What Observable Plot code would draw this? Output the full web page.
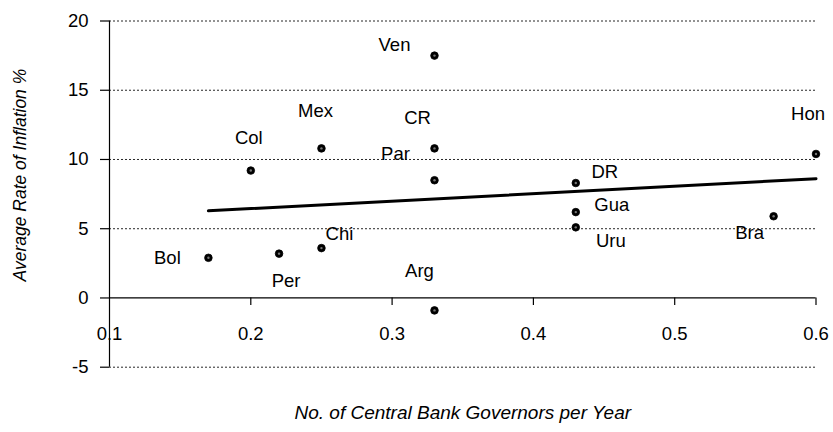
<!DOCTYPE html>
<html>
<head>
<meta charset="utf-8">
<script src="https://cdn.jsdelivr.net/npm/d3@7"></script>
<script src="https://cdn.jsdelivr.net/npm/@observablehq/plot@0.6"></script>
<style>
  html, body { margin: 0; padding: 0; background: #fff; }
  #chart { width: 833px; height: 432px; }
</style>
</head>
<body>
<div id="chart"></div>
<script>
const countries = ["Bol", "Col", "Per", "Mex", "Chi", "Ven", "CR", "Par", "Arg", "DR", "Gua", "Uru", "Bra", "Hon"];
const governorsPerYear = [0.17, 0.20, 0.22, 0.25, 0.25, 0.33, 0.33, 0.33, 0.33, 0.43, 0.43, 0.43, 0.57, 0.60];
const inflation = [2.9, 9.2, 3.2, 10.8, 3.6, 17.5, 10.8, 8.5, -0.9, 8.3, 6.2, 5.1, 5.9, 10.4];
const xTicks = [0.1, 0.2, 0.3, 0.4, 0.5, 0.6];
const xTickLabels = ["0.1", "0.2", "0.3", "0.4", "0.5", "0.6"];
const yTicks = [-5, 0, 5, 10, 15, 20];
const yTickLabels = ["-5", "0", "5", "10", "15", "20"];

const data = countries.map((c, i) => ({country: c, x: governorsPerYear[i], y: inflation[i]}));

// label placement (pixel offsets from each point), layout only
const labelOffset = {
  Bol: [-41, 0], Col: [-2, -32], Per: [7, 27], Mex: [-6, -37], Chi: [18, -14],
  Ven: [-40, -11], CR: [-17, -30], Par: [-39, -26], Arg: [-15, -39],
  DR: [29, -11], Gua: [36, -7], Uru: [35, 14], Bra: [-24, 17], Hon: [-8, -40]
};

const font = "Liberation Sans, Arial, Helvetica, sans-serif";
const fsLabel = 18.5;
const fsTick = 18.5;
const W = 833, H = 432, mL = 109, mR = 17.5, mT = 20.5, mB = 65.3;
const xMin = xTicks[0], xMax = xTicks[xTicks.length - 1];
const tickLenX = 9 * (xMax - xMin) / (W - mL - mR); // 9px in data units

const labelMarks = data.map(d => Plot.text([d], {
  x: "x", y: "y", text: "country",
  dx: labelOffset[d.country][0], dy: labelOffset[d.country][1],
  fontSize: fsLabel, fill: "#000"
}));

const plot = Plot.plot({
  width: W,
  height: H,
  marginLeft: mL,
  marginRight: mR,
  marginTop: mT,
  marginBottom: mB,
  style: {fontFamily: font, fontSize: fsTick + "px", background: "#fff", color: "#000"},
  x: {type: "linear", domain: [xMin, xMax], axis: null},
  y: {type: "linear", domain: [-5, 20], axis: null},
  marks: [
    // dotted horizontal gridlines
    Plot.ruleY(yTicks.filter(v => v !== 0), {x1: xMin, x2: xMax, stroke: "#000", strokeWidth: 1, strokeDasharray: "2,2", strokeOpacity: 0.85}),
    // x axis line at y=0
    Plot.ruleY([0], {x1: xMin, x2: xMax, stroke: "#000", strokeWidth: 1.2}),
    // x ticks (downward)
    Plot.ruleX(xTicks.slice(1), {y1: 0, y2: -0.55, stroke: "#000", strokeWidth: 1.2}),
    // y axis line
    Plot.ruleX([xMin], {y1: -5, y2: 20, stroke: "#000", strokeWidth: 1.2}),
    // y ticks
    Plot.ruleY(yTicks, {x1: xMin - tickLenX, x2: xMin, stroke: "#000", strokeWidth: 1.2}),
    // y tick labels
    Plot.text(yTicks, {x: () => xMin, y: d => d, text: (d, i) => yTickLabels[i], dx: -21, textAnchor: "end", fontSize: fsTick, fill: "#000"}),
    // x tick labels
    Plot.text(xTicks, {x: d => d, y: () => 0, text: (d, i) => xTickLabels[i], dy: 36, fontSize: fsTick, fill: "#000"}),
    // regression line
    Plot.linearRegressionY(data, {x: "x", y: "y", stroke: "#000", strokeWidth: 3, ci: 0}),
    // points
    Plot.dot(data, {x: "x", y: "y", r: 3.8, fill: "#000", stroke: "#000", strokeWidth: 0.8}),
    Plot.dot(data, {x: "x", y: "y", r: 1.2, fill: "#777"}),
    ...labelMarks,
    // axis titles
    Plot.text(["Average Rate of Inflation %"], {frameAnchor: "left", textAnchor: "middle", dx: -89, dy: -19, rotate: -90, fontSize: 17.5, fontStyle: "italic", fill: "#000", text: d => d}),
    Plot.text(["No. of Central Bank Governors per Year"], {frameAnchor: "bottom", textAnchor: "middle", dy: 52, fontSize: 19, fontStyle: "italic", fill: "#000", text: d => d})
  ]
});

document.getElementById("chart").appendChild(plot);
</script>
</body>
</html>
